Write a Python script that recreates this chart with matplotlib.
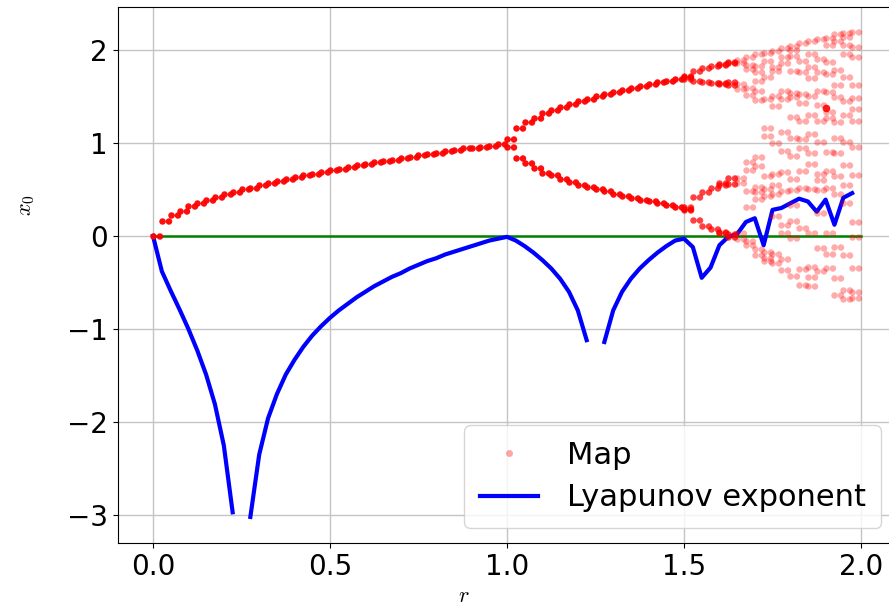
import numpy as np
import matplotlib
matplotlib.use("Agg")
import matplotlib.pyplot as plt
from matplotlib.path import Path
from matplotlib.lines import Line2D

# ---------------- data ----------------
# Lyapunov exponent on the r grid (step 0.025)
lyap_r = [0.000, 0.025, 0.050, 0.075, 0.100, 0.125, 0.150, 0.175, 0.200, 0.225,
          0.250, 0.275, 0.300, 0.325, 0.350, 0.375, 0.400, 0.425, 0.450, 0.475,
          0.500, 0.525, 0.550, 0.575, 0.600, 0.625, 0.650, 0.675, 0.700, 0.725,
          0.750, 0.775, 0.800, 0.825, 0.850, 0.875, 0.900, 0.925, 0.950, 0.975,
          1.000, 1.025, 1.050, 1.075, 1.100, 1.125, 1.150, 1.175, 1.200, 1.225,
          1.250, 1.275, 1.300, 1.325, 1.350, 1.375, 1.400, 1.425, 1.450, 1.475,
          1.500, 1.525, 1.550, 1.575, 1.600, 1.625, 1.650, 1.675, 1.700, 1.725,
          1.750, 1.775, 1.800, 1.825, 1.850, 1.875, 1.900, 1.925, 1.950, 1.975]
lyap_val = [0.00, -0.38, -0.59, -0.79, -1.00, -1.23, -1.49, -1.81, -2.25, -2.97,
            np.nan, -3.02, -2.35, -1.96, -1.70, -1.49, -1.33, -1.19, -1.07, -0.97,
            -0.88, -0.80, -0.73, -0.66, -0.60, -0.54, -0.49, -0.44, -0.40, -0.35,
            -0.31, -0.27, -0.24, -0.20, -0.17, -0.14, -0.11, -0.08, -0.05, -0.03,
            -0.01, -0.05, -0.11, -0.18, -0.26, -0.35, -0.46, -0.60, -0.80, -1.12,
            np.nan, -1.14, -0.80, -0.60, -0.46, -0.35, -0.26, -0.18, -0.11, -0.05,
            -0.03, -0.12, -0.45, -0.34, -0.10, -0.01, 0.02, 0.15, 0.19, -0.10,
            0.28, 0.30, 0.35, 0.40, 0.37, 0.26, 0.39, 0.12, 0.41, 0.46]

# reference zero line
zero_r = [0.0, 2.0]
zero_val = [0.0, 0.0]

# Map: fixed-point branch
map1_r = [0.000, 0.025, 0.050, 0.075, 0.100, 0.125, 0.150, 0.175, 0.200, 0.225,
          0.250, 0.275, 0.300, 0.325, 0.350, 0.375, 0.400, 0.425, 0.450, 0.475,
          0.500, 0.525, 0.550, 0.575, 0.600, 0.625, 0.650, 0.675, 0.700, 0.725,
          0.750, 0.775, 0.800, 0.825, 0.850, 0.875, 0.900, 0.925, 0.950, 0.975]
map1_x = [0.00, 0.16, 0.22, 0.27, 0.32, 0.35, 0.39, 0.42, 0.45, 0.47,
          0.50, 0.52, 0.55, 0.57, 0.59, 0.61, 0.63, 0.65, 0.67, 0.69,
          0.71, 0.72, 0.74, 0.76, 0.77, 0.79, 0.81, 0.82, 0.84, 0.85,
          0.87, 0.88, 0.89, 0.91, 0.92, 0.94, 0.95, 0.96, 0.97, 0.99]

# Map: period-2 branches
map2_r = [1.000, 1.025, 1.050, 1.075, 1.100, 1.125, 1.150, 1.175, 1.200, 1.225,
          1.250, 1.275, 1.300, 1.325, 1.350, 1.375, 1.400, 1.425, 1.450, 1.475, 1.500]
map2_upper = [1.04, 1.16, 1.22, 1.27, 1.32, 1.35, 1.39, 1.42, 1.45, 1.47,
              1.50, 1.52, 1.55, 1.57, 1.59, 1.61, 1.63, 1.65, 1.67, 1.69, 1.71]
map2_lower = [0.96, 0.84, 0.78, 0.73, 0.68, 0.65, 0.61, 0.58, 0.55, 0.53,
              0.50, 0.48, 0.45, 0.43, 0.41, 0.39, 0.37, 0.35, 0.33, 0.31, 0.29]

# Map: period-4/8 region
map4_r = [1.500, 1.525, 1.550, 1.575, 1.600, 1.625]
map4_x = [[1.72, 1.69, 0.31, 0.28],
          [1.77, 1.66, 0.42, 0.17],
          [1.80, 1.65, 0.47, 0.11],
          [1.83, 1.64, 0.52, 0.07],
          [1.85, 1.84, 1.64, 1.63, 0.57, 0.55, 0.04, 0.03],
          [1.87, 1.86, 1.65, 1.62, 0.62, 0.56, 0.02, -0.01]]

# Map: chaotic region
mapc_r = [1.650, 1.675, 1.700, 1.725, 1.750, 1.775, 1.800,
          1.825, 1.850, 1.875, 1.900, 1.925, 1.950, 1.975]
mapc_x = [[1.89, 1.86, 1.63, 1.58, 0.62, 0.57, 0.03, -0.03],
          [1.92, 1.84, 1.79, 1.59, 1.51, 0.79, 0.71, 0.48, 0.31, -0.05, -0.10],
          [1.95, 1.83, 1.76, 1.66, 1.56, 1.46, 0.85, 0.75, 0.53, 0.47, 0.40, -0.14, -0.21],
          [1.97, 1.88, 1.71, 1.47, 1.16, 1.07, 0.64, 0.50, 0.43, -0.17, -0.24, -0.27],
          [1.99, 1.81, 1.77, 1.50, 1.40, 1.00, 0.67, 0.55, 0.45, 0.21, -0.19, -0.29],
          [2.02, 1.92, 1.86, 1.56, 1.47, 1.12, 0.91, 0.69, 0.48, 0.12, 0.03, -0.25, -0.37],
          [2.04, 2.00, 1.93, 1.77, 1.54, 1.49, 1.28, 1.05, 0.86, 0.61, 0.49, 0.33, 0.16, -0.02, -0.43],
          [2.07, 1.88, 1.76, 1.52, 1.43, 1.23, 1.04, 0.95, 0.70, 0.51, 0.08, -0.36, -0.53],
          [2.09, 1.95, 1.82, 1.70, 1.50, 1.30, 1.10, 0.89, 0.77, 0.50, 0.03, -0.33, -0.44, -0.54],
          [2.12, 1.90, 1.76, 1.56, 1.41, 1.24, 1.01, 0.67, 0.60, 0.49, 0.25, -0.13, -0.38],
          [2.13, 2.05, 1.87, 1.74, 1.55, 1.33, 1.27, 0.90, 0.70, 0.52, 0.03, -0.19, -0.35],
          [2.17, 2.09, 1.78, 1.62, 1.49, 1.22, 1.05, 0.89, 0.64, 0.45, -0.12, -0.45, -0.63],
          [2.18, 2.14, 2.05, 1.96, 1.71, 1.45, 1.30, 1.01, 0.76, 0.55, 0.35, -0.20, -0.58, -0.68],
          [2.19, 2.03, 1.92, 1.62, 1.48, 1.36, 1.23, 0.96, 0.66, 0.15, -0.01, -0.35, -0.60, -0.67]]

# a repeated (dark) point in the chaotic region
mapd_r = [1.900]
mapd_x = [1.38]

x_ticks = [0.0, 0.5, 1.0, 1.5, 2.0]
y_ticks = [-3, -2, -1, 0, 1, 2]

# ---------------- figure ----------------
plt.rcParams['mathtext.fontset'] = 'cm'
fig = plt.figure(figsize=(8.89, 6.12), dpi=100)
ax = fig.add_axes([117.6 / 889, (612 - 543) / 612, (896.4 - 117.6) / 889, 536 / 612])
ax.set_xlim(-0.1, 2.1)
ax.set_ylim(-3.3, 2.46)

ax.grid(True, color='#c4c4c4', linewidth=1.0)
ax.set_axisbelow(True)

ax.plot(zero_r, zero_val, color='green', linewidth=1.8, zorder=2)
ax.plot(lyap_r, lyap_val, color='blue', linewidth=3, zorder=3)

# double-dot marker
c1 = Path.circle((0.0, 0.0), 1.0)
c2 = Path.circle((2.0, 0.0), 1.0)
pair = Path.make_compound_path(c1, c2)
mk = dict(linestyle='none', marker=pair, markersize=14,
          markeredgewidth=0, color='red', zorder=4)

ax.plot(map1_r, map1_x, alpha=0.95, **mk)
ax.plot(map2_r, map2_upper, alpha=0.95, **mk)
ax.plot(map2_r, map2_lower, alpha=0.95, **mk)

r4, x4 = [], []
for r, xs in zip(map4_r, map4_x):
    r4 += [r] * len(xs)
    x4 += xs
ax.plot(r4, x4, alpha=0.75, **mk)

rc, xc = [], []
for r, xs in zip(mapc_r, mapc_x):
    rc += [r] * len(xs)
    xc += xs
ax.plot(rc, xc, alpha=0.33, **mk)
ax.plot(mapd_r, mapd_x, alpha=0.9, linestyle='none', marker='o',
        markersize=5.5, markeredgewidth=0, color='red', zorder=4)

ax.set_xticks(x_ticks)
ax.set_yticks(y_ticks)
ax.tick_params(labelsize=20)

ax.set_xlabel('$r$', fontsize=16)
ax.xaxis.set_label_coords(0.445, -0.08)
ax.set_ylabel('$x_0$', fontsize=16)
ax.yaxis.set_label_coords(-0.104, 0.631)

handles = [Line2D([], [], linestyle='none', marker='o', markersize=5,
                  markeredgewidth=0, color='red', alpha=0.35),
           Line2D([], [], color='blue', linewidth=3)]
ax.legend(handles, ['Map', 'Lyapunov exponent'], loc='lower right',
          fontsize=22, numpoints=1, borderaxespad=0.5, borderpad=0.5,
          labelspacing=0.45, handlelength=1.9, handletextpad=0.95)

fig.savefig('out.png', dpi=100)
